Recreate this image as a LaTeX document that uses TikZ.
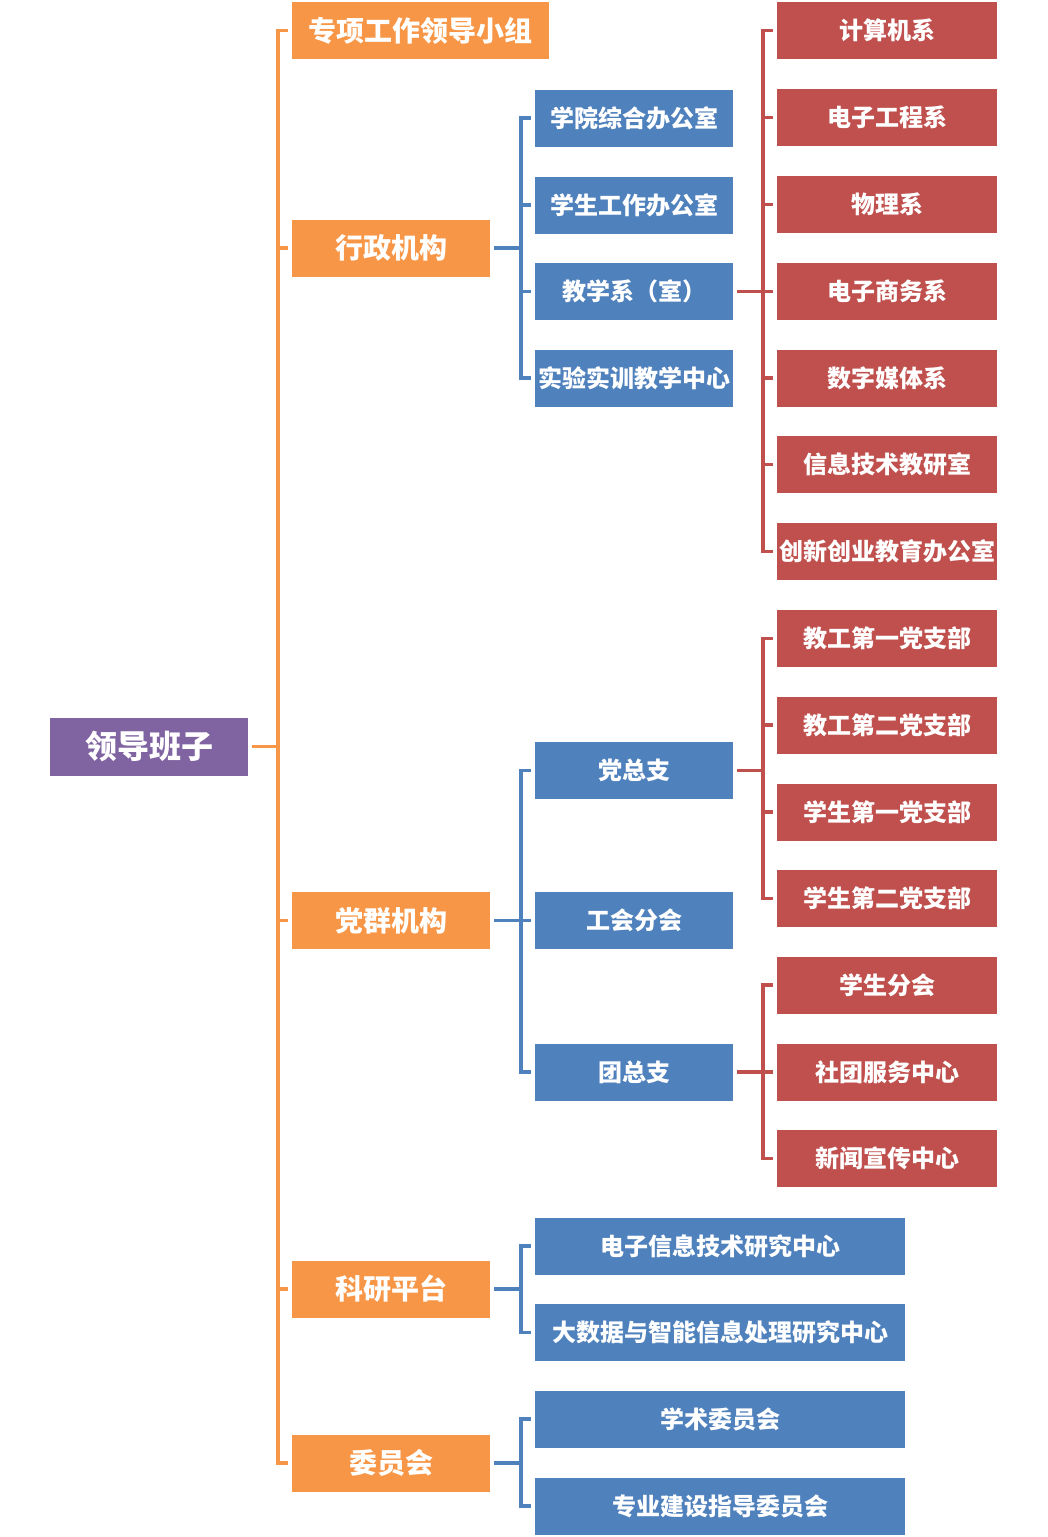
\documentclass[tikz,border=0pt]{standalone}
\usepackage{fontspec}
\setmainfont{Noto Sans CJK SC}
\definecolor{leadpurple}{HTML}{8064A2}
\definecolor{orgorange}{HTML}{F79646}
\definecolor{orgblue}{HTML}{4F81BD}
\definecolor{orgred}{HTML}{C0504D}
\tikzset{
  box/.style={inner sep=0pt, text=white, font=\bfseries\fontsize{24}{24}\selectfont},
  lead/.style={box, fill=leadpurple, minimum width=198pt, minimum height=58pt, font=\bfseries\fontsize{32}{32}\selectfont},
  lvone/.style={box, fill=orgorange, minimum width=198pt, minimum height=57pt, font=\bfseries\fontsize{28}{28}\selectfont},
  lvtwo/.style={box, fill=orgblue, minimum width=198pt, minimum height=57pt},
  lvthree/.style={box, fill=orgred, minimum width=220pt, minimum height=57pt},
  oline/.style={draw=orgorange, line width=3.5pt},
  bline/.style={draw=orgblue, line width=3.5pt},
  rline/.style={draw=orgred, line width=3.5pt}
}
\begin{document}
\begin{tikzpicture}[x=1pt,y=-1pt]
\useasboundingbox (0,0) rectangle (1047,1537);
\node[lead] (0) at (149,746.5) {领导班子};

\node[lvone, minimum width=257pt] (1) at (420.5,30.5) {专项工作领导小组};
\node[lvone] (2) at (391,248) {行政机构};
\node[lvone] (3) at (391,920.5) {党群机构};
\node[lvone] (4) at (391,1289) {科研平台};
\node[lvone] (5) at (391,1463) {委员会};

\node[lvtwo] (21) at (634,118) {学院综合办公室};
\node[lvtwo] (22) at (634,205) {学生工作办公室};
\node[lvtwo] (23) at (634,291.5) {教学系（室）};
\node[lvtwo] (24) at (634,378) {实验实训教学中心};
\node[lvtwo] (31) at (634,770.5) {党总支};
\node[lvtwo] (32) at (634,920.5) {工会分会};
\node[lvtwo] (33) at (634,1072) {团总支};
\node[lvtwo, minimum width=370pt] (41) at (720,1246) {电子信息技术研究中心};
\node[lvtwo, minimum width=370pt] (42) at (720,1332.5) {大数据与智能信息处理研究中心};
\node[lvtwo, minimum width=370pt] (51) at (720,1419) {学术委员会};
\node[lvtwo, minimum width=370pt] (52) at (720,1506) {专业建设指导委员会};

\node[lvthree] (231) at (887,30.5) {计算机系};
\node[lvthree] (232) at (887,117.5) {电子工程系};
\node[lvthree] (233) at (887,204.5) {物理系};
\node[lvthree] (234) at (887,291.5) {电子商务系};
\node[lvthree] (235) at (887,378) {数字媒体系};
\node[lvthree] (236) at (887,464.5) {信息技术教研室};
\node[lvthree] (237) at (887,551.5) {创新创业教育办公室};
\node[lvthree] (311) at (887,638.5) {教工第一党支部};
\node[lvthree] (312) at (887,725) {教工第二党支部};
\node[lvthree] (313) at (887,812) {学生第一党支部};
\node[lvthree] (314) at (887,898.5) {学生第二党支部};
\node[lvthree] (331) at (887,985) {学生分会};
\node[lvthree] (332) at (887,1072) {社团服务中心};
\node[lvthree] (333) at (887,1158.5) {新闻宣传中心};

% 领导班子
\path[oline] ([xshift=4pt]0.east) -- ([xshift=-14pt]0.east -| 2.west);
\path[oline] ([xshift=-4pt]1.west) -| ([xshift=-14pt]5.west) -- ([xshift=-4pt]5.west);
\foreach \c in {2,3,4}
  \path[oline] ([xshift=-14pt]\c.west) -- ([xshift=-4pt]\c.west);

% 行政机构
\path[bline] ([xshift=4pt]2.east) -- ([xshift=-14pt]2.east -| 21.west);
\path[bline] ([xshift=-4pt]21.west) -| ([xshift=-14pt]24.west) -- ([xshift=-4pt]24.west);
\foreach \c in {22,23}
  \path[bline] ([xshift=-14pt]\c.west) -- ([xshift=-4pt]\c.west);

% 教学系（室）
\path[rline] ([xshift=4pt]23.east) -- ([xshift=-14pt]23.east -| 231.west);
\path[rline] ([xshift=-4pt]231.west) -| ([xshift=-14pt]237.west) -- ([xshift=-4pt]237.west);
\foreach \c in {232,...,236}
  \path[rline] ([xshift=-14pt]\c.west) -- ([xshift=-4pt]\c.west);

% 党群机构
\path[bline] ([xshift=4pt]3.east) -- ([xshift=-14pt]3.east -| 31.west);
\path[bline] ([xshift=-4pt]31.west) -| ([xshift=-14pt]33.west) -- ([xshift=-4pt]33.west);
\path[bline] ([xshift=-14pt]32.west) -- ([xshift=-4pt]32.west);

% 党总支
\path[rline] ([xshift=4pt]31.east) -- ([xshift=-14pt]31.east -| 311.west);
\path[rline] ([xshift=-4pt]311.west) -| ([xshift=-14pt]314.west) -- ([xshift=-4pt]314.west);
\foreach \c in {312,313}
  \path[rline] ([xshift=-14pt]\c.west) -- ([xshift=-4pt]\c.west);

% 团总支
\path[rline] ([xshift=4pt]33.east) -- ([xshift=-14pt]33.east -| 331.west);
\path[rline] ([xshift=-4pt]331.west) -| ([xshift=-14pt]333.west) -- ([xshift=-4pt]333.west);
\path[rline] ([xshift=-14pt]332.west) -- ([xshift=-4pt]332.west);

% 科研平台
\path[bline] ([xshift=4pt]4.east) -- ([xshift=-14pt]4.east -| 41.west);
\path[bline] ([xshift=-4pt]41.west) -| ([xshift=-14pt]42.west) -- ([xshift=-4pt]42.west);

% 委员会
\path[bline] ([xshift=4pt]5.east) -- ([xshift=-14pt]5.east -| 51.west);
\path[bline] ([xshift=-4pt]51.west) -| ([xshift=-14pt]52.west) -- ([xshift=-4pt]52.west);
\end{tikzpicture}
\end{document}
